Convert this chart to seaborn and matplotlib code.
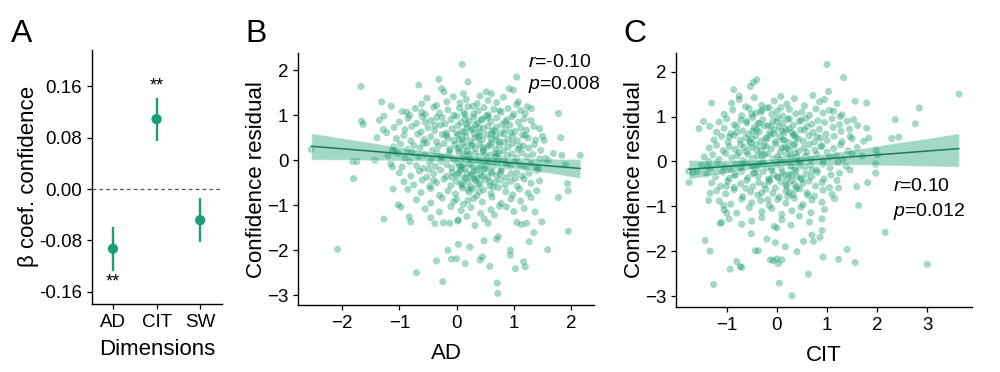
import numpy as np
import pandas as pd
import matplotlib
matplotlib.use("Agg")
import matplotlib.pyplot as plt
import seaborn as sns

# ---- panel A: regression coefficients ----
dims = ["AD", "CIT", "SW"]
beta = [-0.093, 0.109, -0.0485]
beta_lo = [-0.127, 0.075, -0.0826]
beta_hi = [-0.059, 0.1425, -0.0145]
stars = ["**", "**", ""]
star_y = [-0.1455, 0.160, 0.0]

# ---- panel B: AD vs confidence residual ----
ad_x = [
    -2.54, -2.08, -1.67, -1.66, -1.63, -1.81, -1.74, -1.80, -1.43, -1.39, -1.31, -1.27,
    -1.35, -1.27, -1.14, -1.09, -1.12, -1.08, -1.12, -1.11, -1.02, -0.97, -1.28, -1.22,
    -0.87, -0.82, -0.83, -0.80, -0.70, -0.66, -0.61, -0.55, -0.38, -0.31, -0.35, -0.24,
    -0.23, -0.26, -0.22, -0.15, -0.09, 0.00, 0.03, 0.10, 0.20, 0.15, 0.23, 0.41,
    0.45, 0.48, 0.58, 0.52, 0.61, 0.70, 0.73, 0.71, 0.72, 0.87, 0.92, 0.99,
    1.05, 0.94, 0.94, 1.03, 1.17, 1.20, 1.08, 1.24, 1.31, 1.27, 1.35, 1.37,
    1.49, 1.45, 1.53, 1.59, 1.69, 1.78, 1.82, 1.78, 1.90, 1.84, 1.94, 1.95,
    1.95, 2.16, 1.55, 1.60, 1.43,
    # core
    -0.61, -0.52, -0.35, -0.17, -0.06, 0.06, 0.17, 0.29, 0.41, 0.55, 0.70, 0.82, 1.05, 0.12, 0.36,
    -0.95, -0.72, -0.55, -0.40, -0.30, -0.15, -0.05, 0.05, 0.12, 0.20, 0.30, 0.38, 0.48, 0.56,
    0.65, 0.78, 0.90, 1.00, 1.12, 1.20,
    -1.00, -0.85, -0.70, -0.60, -0.45, -0.35, -0.20, -0.10, 0.00, 0.08, 0.15, 0.22, 0.30, 0.37,
    0.45, 0.52, 0.60, 0.70, 0.80, 0.88, 0.97, 1.08, 1.18, 1.30,
    -0.90, -0.78, -0.62, -0.50, -0.38, -0.28, -0.18, -0.08, 0.02, 0.10, 0.18, 0.25, 0.33, 0.40,
    0.47, 0.55, 0.62, 0.70, 0.77, 0.85, 0.93, 1.02, 1.12, 1.22, 1.35, 0.28,
    -1.05, -0.92, -0.80, -0.68, -0.57, -0.45, -0.35, -0.25, -0.15, -0.05, 0.03, 0.10, 0.17, 0.24,
    0.31, 0.38, 0.45, 0.52, 0.60, 0.68, 0.75, 0.83, 0.90, 0.98, 1.06, 1.15, 1.25, 1.38, 1.50, 0.40,
    -1.10, -0.98, -0.86, -0.75, -0.64, -0.52, -0.42, -0.32, -0.22, -0.12, -0.03, 0.05, 0.12, 0.19,
    0.26, 0.33, 0.40, 0.47, 0.54, 0.61, 0.68, 0.75, 0.82, 0.90, 0.98, 1.07, 1.16, 1.26, 1.36, 1.47,
    0.15, 0.58,
    -1.20, -1.02, -0.90, -0.78, -0.66, -0.55, -0.44, -0.34, -0.24, -0.14, -0.05, 0.04, 0.11, 0.18,
    0.25, 0.32, 0.39, 0.46, 0.53, 0.60, 0.67, 0.74, 0.81, 0.89, 0.97, 1.05, 1.14, 1.23, 1.33, 1.45,
    0.22, 0.70,
    -1.15, -0.95, -0.82, -0.70, -0.58, -0.47, -0.37, -0.27, -0.17, -0.08, 0.01, 0.08, 0.15, 0.22,
    0.29, 0.36, 0.43, 0.50, 0.57, 0.64, 0.71, 0.78, 0.86, 0.94, 1.02, 1.11, 1.20, 1.30, 1.40, 0.12,
    0.40, 0.05,
    -1.00, -0.80, -0.65, -0.52, -0.40, -0.28, -0.18, -0.08, 0.00, 0.06, 0.12, 0.18, 0.24, 0.30,
    0.36, 0.42, 0.48, 0.55, 0.62, 0.70, 0.78, 0.86, 0.95, 1.05, 1.15, 1.27, 1.40, 0.03, 0.27, 0.45,
    -0.92, -0.75, -0.60, -0.47, -0.35, -0.22, -0.10, 0.00, 0.08, 0.16, 0.25, 0.33, 0.41, 0.50,
    0.58, 0.67, 0.76, 0.85, 0.95, 1.06, 1.18, 1.30, 1.45, 0.20, 0.38,
    -0.85, -0.62, -0.45, -0.30, -0.15, -0.02, 0.10, 0.22, 0.35, 0.47, 0.60, 0.73, 0.86, 0.98,
    1.10, 1.25, 1.40, 0.28,
    -0.70, -0.45, -0.25, -0.05, 0.00, 0.12, 0.30, 0.45, 0.62, 0.78, 0.95, 1.12, 1.30, 0.20,
    -0.55, -0.30, -0.10, 0.08, 0.25, 0.42, 0.60, 0.75, 1.00, 1.18,
    -0.45, -0.12, 0.03, 0.18, 0.32, 0.48, 0.55, 0.66, 1.05, 1.13, 1.22, 0.02,
    # denser centre
    0.05, 0.14, 0.22, 0.31, 0.39, 0.46, 0.53, 0.61, 0.69, 0.76, 0.83, 0.10, 0.18, 0.27,
    0.35, 0.43, 0.50, 0.58, 0.66, 0.73, 0.02, -0.08, -0.18, -0.28, -0.38, -0.48, -0.58, 0.95,
    1.03, 1.10, 0.88, 0.20, 0.40, 0.60, 0.15, 0.55, 0.75, -0.25, 0.08, 0.32, 0.48, 0.70,
    -0.12, 0.25, 0.12, 0.64, 0.85, 1.20, -0.40, 0.00,
]
ad_resid = [
    0.24, -1.98, 1.64, 0.87, 0.80, -0.03, -0.03, -0.41, 0.00, 0.50, 1.30, -1.31,
    0.89, 0.98, 1.20, 0.73, 0.22, 0.19, -0.15, -0.64, -0.99, -1.04, 0.68, 0.61,
    1.07, 1.00, -1.26, -1.37, -2.50, 1.67, 1.07, 0.85, -1.41, 1.80, -2.24, -2.70,
    -1.39, 1.59, 1.52, -2.00, -2.20, -2.19, -1.87, 2.13, 1.74, -2.30, -1.93, -2.22,
    -2.15, -1.79, -2.36, 1.52, 1.48, -1.76, -1.70, -2.73, -2.96, -1.04, 1.59, 1.56,
    1.85, -2.00, -2.11, -2.41, -2.26, -2.37, 1.30, 1.19, 1.15, -1.81, -1.61, -1.15,
    -1.37, 0.70, 0.44, -1.99, 0.15, 1.04, 0.50, -0.83, -0.11, 0.11, -0.52, -0.68,
    -1.58, 0.11, 0.04, 0.00, -0.19,
    # core
    1.25, 1.38, 1.22, 1.30, 1.41, 1.27, 1.35, 1.20, 1.43, 1.33, 1.28, 1.40, 1.24, 1.48, 1.26,
    1.08, 1.15, 1.02, 1.18, 1.05, 1.12, 1.00, 1.16, 1.06, 1.19, 1.03, 1.10, 1.17, 1.01,
    1.13, 1.07, 1.15, 1.02, 1.10, 1.04,
    0.85, 0.93, 0.82, 0.97, 0.88, 0.95, 0.81, 0.90, 0.98, 0.84, 0.92, 0.87, 0.96, 0.83,
    0.91, 0.99, 0.86, 0.94, 0.80, 0.90, 0.97, 0.85, 0.92, 0.88,
    0.68, 0.75, 0.63, 0.72, 0.66, 0.78, 0.61, 0.70, 0.77, 0.64, 0.73, 0.67, 0.79, 0.62,
    0.71, 0.76, 0.65, 0.74, 0.60, 0.69, 0.78, 0.64, 0.72, 0.67, 0.75, 0.70,
    0.48, 0.55, 0.43, 0.58, 0.46, 0.52, 0.41, 0.57, 0.49, 0.44, 0.56, 0.47, 0.53, 0.42,
    0.59, 0.50, 0.45, 0.57, 0.48, 0.54, 0.41, 0.58, 0.46, 0.52, 0.43, 0.56, 0.49, 0.45, 0.53, 0.55,
    0.30, 0.36, 0.24, 0.33, 0.27, 0.38, 0.22, 0.31, 0.37, 0.25, 0.34, 0.28, 0.39, 0.21,
    0.32, 0.26, 0.36, 0.23, 0.30, 0.38, 0.25, 0.33, 0.21, 0.29, 0.37, 0.24, 0.32, 0.27, 0.35, 0.22,
    0.30, 0.34,
    0.10, 0.15, 0.05, 0.18, 0.08, 0.13, 0.02, 0.16, 0.07, 0.12, 0.01, 0.17, 0.06, 0.11,
    0.03, 0.15, 0.08, 0.19, 0.04, 0.12, 0.06, 0.16, 0.02, 0.10, 0.14, 0.05, 0.17, 0.08, 0.13, 0.03,
    0.14, 0.09,
    -0.08, -0.15, -0.03, -0.12, -0.18, -0.06, -0.14, -0.02, -0.10, -0.17, -0.05, -0.13, -0.19, -0.07,
    -0.15, -0.01, -0.11, -0.18, -0.04, -0.13, -0.08, -0.19, -0.06, -0.14, -0.02, -0.11, -0.17, -0.07,
    -0.15, -0.09, -0.16, -0.12,
    -0.28, -0.35, -0.24, -0.38, -0.30, -0.22, -0.36, -0.27, -0.33, -0.23, -0.39, -0.29, -0.35, -0.25,
    -0.40, -0.31, -0.22, -0.37, -0.28, -0.34, -0.24, -0.39, -0.30, -0.26, -0.35, -0.29, -0.23, -0.29,
    -0.31, -0.36,
    -0.48, -0.55, -0.44, -0.58, -0.50, -0.42, -0.56, -0.47, -0.53, -0.41, -0.59, -0.45, -0.52, -0.43,
    -0.57, -0.49, -0.44, -0.55, -0.47, -0.58, -0.42, -0.51, -0.46, -0.48, -0.55,
    -0.65, -0.72, -0.63, -0.78, -0.68, -0.75, -0.62, -0.71, -0.79, -0.66, -0.74, -0.61, -0.70, -0.77,
    -0.64, -0.73, -0.68, -0.64,
    -0.88, -0.95, -0.84, -0.92, -0.87, -0.98, -0.85, -0.93, -0.82, -0.96, -0.86, -0.91, -0.83, -0.90,
    -1.08, -1.15, -1.03, -1.12, -1.05, -1.18, -1.10, -1.02, -1.14, -1.07,
    -1.28, -1.40, -1.33, -1.25, -1.45, -1.30, -1.40, -1.22, -1.38, -1.43, -1.40, -1.35,
    # denser centre
    0.45, 0.62, 0.05, -0.42, 0.72, 0.28, -0.12, 0.58, 0.15, -0.30, 0.40, -0.55, 0.80, 0.35,
    -0.22, 0.90, 0.12, -0.48, 0.66, 0.02, 0.25, -0.38, 0.55, 0.08, 0.78, -0.20, 0.38, 0.62,
    -0.40, 0.30, -0.12, -0.65, -0.70, -0.25, 1.02, 0.95, 1.10, 0.95, -0.20, 0.50, -0.05, 0.45,
    0.20, -0.10, 0.15, -0.60, 0.85, 0.55, -0.45, 0.60,
]

# ---- panel C: CIT vs confidence residual ----
cit_x = [
    -1.75, -1.76, -1.68, -1.59, -1.55, -1.46, -1.43, -1.33, -1.26, -1.36, -1.38, -1.30,
    -1.34, -1.33, -1.36, -1.13, -1.10, -1.06, -1.00, -0.93, -0.80, -0.73, -0.70, -0.86,
    -0.75, -0.53, -0.47, -0.40, -0.51, -0.43, -0.37, -0.20, -0.13, -0.07, 0.00, 0.03,
    0.10, 0.05, -0.03, 0.17, 0.30, 0.40, 0.53, 0.63, 0.70, 0.73, 0.86, 0.90,
    0.92, 1.00, 1.03, 1.23, 1.33, 1.40, 1.56, 1.56, 1.63, 1.59, 1.79, 1.79,
    1.81, 1.97, 1.97, 2.01, 1.98, 2.16, 2.29, 2.36, 2.43, 2.76, 2.84, 3.00,
    3.63, 1.13, 1.26, 1.53, 1.61, 1.73, 1.83, 1.46, 1.46, 1.23,
    # core
    -0.90, -0.75, -0.62, -0.45, -0.30, -0.15, -0.05, 0.08, 0.20, 0.35, 0.55, 0.72, 0.85, 0.95, 1.20,
    -1.05, -0.88, -0.70, -0.55, -0.42, -0.30, -0.20, -0.10, 0.00, 0.12, 0.25, 0.38, 0.50, 0.65,
    0.78, 0.92, 1.05, 1.30,
    -1.15, -1.00, -0.85, -0.72, -0.60, -0.48, -0.38, -0.28, -0.18, -0.08, 0.02, 0.12, 0.22, 0.33,
    0.45, 0.58, 0.70, 0.82, 0.95, 1.10, 1.25, 1.40,
    -1.20, -1.05, -0.92, -0.80, -0.68, -0.56, -0.45, -0.35, -0.25, -0.15, -0.05, 0.05, 0.15, 0.25,
    0.35, 0.47, 0.60, 0.72, 0.85, 0.98, 1.12, 1.28, 1.45, -0.40, 0.10,
    -1.25, -1.10, -0.97, -0.85, -0.73, -0.62, -0.52, -0.42, -0.32, -0.22, -0.12, -0.03, 0.06, 0.15,
    0.24, 0.33, 0.43, 0.53, 0.64, 0.75, 0.87, 1.00, 1.14, 1.30, 1.50, -0.50, 0.38,
    -1.35, -1.20, -1.07, -0.95, -0.83, -0.72, -0.61, -0.51, -0.41, -0.31, -0.21, -0.11, -0.02, 0.07,
    0.16, 0.25, 0.34, 0.44, 0.54, 0.65, 0.76, 0.88, 1.00, 1.13, 1.27, 1.42, 1.60, -0.65, 0.20,
    -1.45, -1.28, -1.15, -1.02, -0.90, -0.79, -0.68, -0.58, -0.48, -0.38, -0.28, -0.18, -0.08, 0.01,
    0.10, 0.19, 0.28, 0.37, 0.47, 0.57, 0.68, 0.80, 0.92, 1.05, 1.18, 1.32, 1.50, 1.70, -0.30, 0.40,
    -1.50, -1.32, -1.18, -1.05, -0.93, -0.82, -0.71, -0.60, -0.50, -0.40, -0.30, -0.20, -0.10, 0.00,
    0.09, 0.18, 0.27, 0.36, 0.46, 0.56, 0.67, 0.79, 0.92, 1.06, 1.22, 1.38, -0.45, 0.30,
    -1.40, -1.22, -1.08, -0.95, -0.82, -0.70, -0.58, -0.47, -0.37, -0.27, -0.17, -0.07, 0.02, 0.11,
    0.20, 0.29, 0.38, 0.48, 0.58, 0.69, 0.81, 0.94, 1.08, 1.25, 0.25, 0.40,
    -1.30, -1.12, -0.98, -0.85, -0.72, -0.60, -0.48, -0.36, -0.25, -0.14, -0.03, 0.08, 0.18, 0.29,
    0.40, 0.52, 0.64, 0.77, 0.90, 1.05, 1.20, 0.35,
    -1.20, -1.02, -0.85, -0.68, -0.52, -0.38, -0.22, -0.08, 0.05, 0.18, 0.32, 0.46, 0.60, 0.75,
    0.92, 1.10, 0.25,
    -1.15, -0.92, -0.70, -0.50, -0.32, -0.15, 0.02, 0.18, 0.35, 0.52, 0.70, 0.90, 1.15,
    -1.05, -0.80, -0.55, -0.30, -0.10, 0.10, 0.30, 0.48, 0.68, 0.95,
    -0.95, -0.70, -0.50, -0.30, -0.05, 0.10, 0.28, 0.45, 0.65, 0.90, 0.00,
    # denser centre
    -0.55, -0.45, -0.35, -0.25, -0.15, -0.05, 0.05, 0.15, 0.25, 0.35, 0.45, 0.55, -0.62, -0.50,
    -0.40, -0.30, -0.20, -0.10, 0.00, 0.10, 0.20, 0.30, 0.40, 0.50, 0.60, -0.75, -0.85, -0.95,
    0.70, 0.80, -0.60, -0.32, 0.08, 0.48, -0.18, 0.22, -0.70, -0.48, 0.12, 0.38, -0.26, 0.02,
    0.28, -0.12, 0.62, 0.90, -1.00, -0.80, 0.18, -0.38,
]
cit_resid = [
    -0.47, -0.22, -0.25, -0.22, 0.73, 0.89, -1.76, -2.00, -2.74, 0.00, -0.11, 1.30,
    0.78, -0.71, -0.87, -1.38, -1.36, -0.98, -1.15, -2.40, -2.23, -2.34, -2.36, 1.60,
    1.46, 1.67, 1.76, 1.82, -1.61, -1.99, -1.99, -1.73, -2.19, -2.21, -2.17, -2.28,
    -2.19, -2.71, -1.81, -1.90, -2.99, -2.01, -1.78, -2.51, -1.64, -1.78, -1.69, -1.54,
    -2.13, 2.16, 1.56, -2.18, 1.87, -1.96, -2.25, 1.34, -0.98, -0.56, 1.30, 0.74,
    -0.47, -0.26, -0.06, 0.15, 0.26, -1.58, 0.51, 0.93, 0.54, 0.84, 1.19, -2.29,
    1.50, 1.12, 1.00, 0.93, 0.80, 0.45, 0.52, 0.56, -0.19, -0.59,
    # core
    1.30, 1.38, 1.22, 1.42, 1.25, 1.20, 1.35, 1.45, 1.28, 1.40, 1.24, 1.47, 1.33, 1.38, 1.29,
    1.05, 1.15, 1.02, 1.18, 1.08, 1.14, 1.19, 1.05, 1.12, 1.01, 1.16, 1.06, 1.10, 1.03,
    1.17, 1.08, 1.14, 1.04,
    0.88, 0.95, 0.82, 0.92, 0.86, 0.98, 0.84, 0.93, 0.80, 0.90, 0.97, 0.85, 0.94, 0.81,
    0.89, 0.96, 0.83, 0.91, 0.87, 0.95, 0.82, 0.90,
    0.65, 0.74, 0.62, 0.78, 0.68, 0.61, 0.75, 0.66, 0.79, 0.63, 0.71, 0.77, 0.64, 0.73,
    0.60, 0.70, 0.78, 0.65, 0.72, 0.61, 0.76, 0.67, 0.72, 0.70, 0.68,
    0.48, 0.56, 0.43, 0.58, 0.47, 0.53, 0.41, 0.57, 0.45, 0.52, 0.59, 0.44, 0.55, 0.48,
    0.42, 0.58, 0.50, 0.45, 0.57, 0.43, 0.52, 0.47, 0.56, 0.44, 0.51, 0.50, 0.53,
    0.30, 0.36, 0.24, 0.33, 0.27, 0.38, 0.22, 0.31, 0.37, 0.25, 0.34, 0.28, 0.39, 0.21,
    0.32, 0.26, 0.36, 0.23, 0.30, 0.38, 0.25, 0.33, 0.21, 0.29, 0.37, 0.24, 0.31, 0.32, 0.29,
    0.10, 0.15, 0.05, 0.18, 0.08, 0.13, 0.02, 0.16, 0.07, 0.12, 0.01, 0.17, 0.06, 0.11,
    0.03, 0.15, 0.08, 0.19, 0.04, 0.12, 0.06, 0.16, 0.02, 0.10, 0.14, 0.05, 0.17, 0.12, 0.14, 0.10,
    -0.08, -0.15, -0.03, -0.12, -0.18, -0.06, -0.14, -0.02, -0.10, -0.17, -0.05, -0.13, -0.19, -0.07,
    -0.15, -0.01, -0.11, -0.18, -0.04, -0.13, -0.08, -0.19, -0.06, -0.14, -0.02, -0.11, -0.12, -0.09,
    -0.28, -0.35, -0.24, -0.38, -0.30, -0.22, -0.36, -0.27, -0.33, -0.23, -0.39, -0.29, -0.35, -0.25,
    -0.40, -0.31, -0.22, -0.37, -0.28, -0.34, -0.24, -0.39, -0.30, -0.26, -0.28, -0.34,
    -0.48, -0.55, -0.44, -0.58, -0.50, -0.42, -0.56, -0.47, -0.53, -0.41, -0.59, -0.45, -0.52, -0.43,
    -0.57, -0.49, -0.44, -0.55, -0.47, -0.58, -0.42, -0.50,
    -0.65, -0.72, -0.63, -0.78, -0.68, -0.75, -0.62, -0.71, -0.79, -0.66, -0.74, -0.61, -0.70, -0.77,
    -0.64, -0.73, -0.69,
    -0.88, -0.95, -0.84, -0.92, -0.87, -0.98, -0.85, -0.93, -0.82, -0.96, -0.86, -0.91, -0.83,
    -1.08, -1.15, -1.03, -1.12, -1.05, -1.18, -1.10, -1.02, -1.14, -1.07,
    -1.28, -1.40, -1.33, -1.25, -1.45, -1.30, -1.42, -1.22, -1.35, -1.28, -1.48,
    # denser centre
    0.45, -0.25, 0.85, 0.15, -0.45, 0.62, 0.05, -0.30, 0.95, 0.38, -0.10, 0.70, -0.60, 1.05,
    0.25, -0.70, 0.50, -0.15, 0.88, 0.30, -0.55, 0.65, 0.02, -0.40, 0.20, 0.20, -0.30, 0.55,
    -0.20, 0.55, 0.90, 1.10, 1.20, 0.92, -0.85, -0.78, -0.05, 0.68, 0.48, -0.62, 0.35, -0.35,
    0.12, 0.78, -0.75, 0.35, -0.55, 0.65, 0.72, -0.05,
]

ad_stats = ["$r$=-0.10", "$p$=0.008"]
cit_stats = ["$r$=0.10", "$p$=0.012"]

green = "#1b9e77"
dark_green = "#1d7a58"

sns.set_style("ticks")
plt.rcParams["font.family"] = ["Liberation Sans", "DejaVu Sans"]
plt.rcParams["mathtext.fontset"] = "custom"
plt.rcParams["mathtext.rm"] = "Liberation Sans"
plt.rcParams["mathtext.it"] = "Liberation Sans:italic"
plt.rcParams["axes.linewidth"] = 1.0
plt.rcParams["axes.edgecolor"] = "black"
plt.rcParams["axes.labelcolor"] = "black"
plt.rcParams["text.color"] = "black"
plt.rcParams["xtick.color"] = "black"
plt.rcParams["ytick.color"] = "black"
plt.rcParams["xtick.major.size"] = 3.5
plt.rcParams["ytick.major.size"] = 3.5
plt.rcParams["xtick.major.width"] = 0.9
plt.rcParams["ytick.major.width"] = 0.9

fig = plt.figure(figsize=(10, 3.72), dpi=100)
axA = fig.add_axes([0.092, 0.183, 0.130, 0.683])
axB = fig.add_axes([0.298, 0.180, 0.296, 0.677])
axC = fig.add_axes([0.676, 0.175, 0.296, 0.683])

# panel A
coef = pd.DataFrame({"dim": dims, "beta": beta, "lo": beta_lo, "hi": beta_hi})
axA.axhline(0, color="#555555", lw=0.9, ls=(0, (3, 2.5)), zorder=1)
axA.vlines(coef["dim"], coef["lo"], coef["hi"], color=green, lw=1.7, zorder=2)
sns.scatterplot(data=coef, x="dim", y="beta", ax=axA, color=green, s=55,
                edgecolor="none", zorder=3)
for d, s, y in zip(dims, stars, star_y):
    if s:
        axA.text(d, y, s, ha="center", va="center", fontsize=13)
axA.set_xlim(-0.48, 2.5)
axA.set_ylim(-0.179, 0.217)
axA.set_yticks([0.16, 0.08, 0.0, -0.08, -0.16])
axA.set_yticklabels(["0.16", "0.08", "0.00", "-0.08", "-0.16"])
axA.set_xlabel("Dimensions", fontsize=16, labelpad=6)
axA.set_ylabel("\u03b2 coef. confidence", fontsize=16, labelpad=0)
axA.tick_params(labelsize=13.5)


def scatter_panel(ax, x, y, xlabel, stats, stats_pos):
    df = pd.DataFrame({"x": x, "y": y})
    sns.regplot(data=df, x="x", y="y", ax=ax, ci=95, seed=0,
                scatter_kws=dict(s=26, color=green, alpha=0.4, edgecolor="none"),
                line_kws=dict(color=dark_green, lw=1.1))
    ax.collections[-1].set_alpha(0.4)
    ax.collections[-1].set_facecolor(green)
    ax.set_xlabel(xlabel, fontsize=16, labelpad=8)
    ax.set_ylabel("Confidence residual", fontsize=16, labelpad=0)
    ax.set_yticks([-3, -2, -1, 0, 1, 2])
    ax.tick_params(labelsize=13.5)
    for txt, (px, py) in zip(stats, stats_pos):
        ax.text(px, py, txt, transform=ax.transAxes, ha="left", va="center", fontsize=14)
    sns.despine(ax=ax)


scatter_panel(axB, ad_x, ad_resid, "AD", ad_stats, [(0.777, 0.964), (0.777, 0.877)])
axB.set_xlim(-2.77, 2.40)
axB.set_ylim(-3.22, 2.38)
axB.set_xticks([-2, -1, 0, 1, 2])

scatter_panel(axC, cit_x, cit_resid, "CIT", cit_stats, [(0.733, 0.472), (0.733, 0.374)])
axC.set_xlim(-2.01, 3.89)
axC.set_ylim(-3.24, 2.42)
axC.set_xticks([-1, 0, 1, 2, 3])

sns.despine(ax=axA)

for lab, x in zip(["A", "B", "C"], [0.011, 0.245, 0.623]):
    fig.text(x, 0.95, lab, fontsize=23, ha="left", va="top")

fig.savefig("out.png", dpi=100)
